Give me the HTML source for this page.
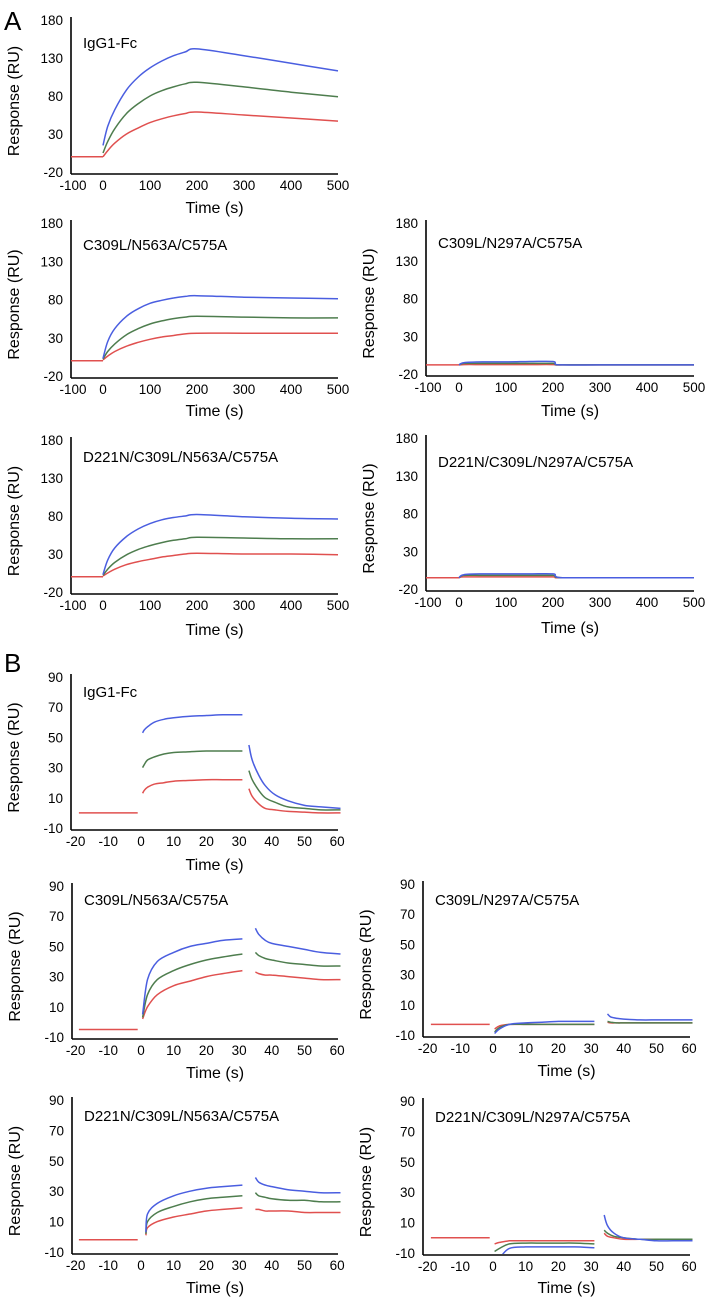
<!DOCTYPE html>
<html><head><meta charset="utf-8">
<style>
html,body{margin:0;padding:0;background:#fff;}
svg{display:block;font-family:"Liberation Sans",sans-serif;}
</style></head>
<body>
<svg id="fig" width="705" height="1297" viewBox="0 0 705 1297" xmlns="http://www.w3.org/2000/svg">
<text x="4" y="30" font-size="26">A</text>
<text x="4" y="672" font-size="26">B</text>
</svg>
<script>
// ---------- Panel A data ----------
const aTime = [0,10,25,50,75,100,125,150,175,200,300,400,500];
const a1Blue  = [15,40,62,88,105,117,126,133,138,142,133,123,113];
const a1Green = [5,20,37,57,70,80,87,92,96,98,92,85,79];
const a1Red   = [0,8,18,30,38,45,50,54,57,59,55,51,47];
const a2Blue  = [3,25,42,58,68,75,79,82,84,85,83,82,81];
const a2Green = [2,12,22,34,42,48,52,55,57,58,57,56,56];
const a2Red   = [1,6,12,19,24,28,31,33,35,36,36,36,36];
const a3Blue  = [3,22,38,53,63,70,75,78,80,82,79,77,76];
const a3Green = [2,10,19,29,36,41,45,48,50,52,51,50,50];
const a3Red   = [1,5,10,16,20,23,26,28,30,31,30,30,29];
const aBaseTime = [-80,0];
const aBaseLeft = [0,0];
const aBaseRightN297 = [-8,-8];
const aBaseRightD221 = [-5,-5];
const aTimeWeak = [0,10,50,100,150,200,205,220,300,400,500];
const a2rBlue  = [-8,-5,-4,-4,-3.5,-3.5,-7,-8,-8,-8,-8];
const a2rGreen = [-8,-6,-6,-6,-6,-6,-7.5,-8,-8,-8,-8];
const a2rRed   = [-8,-7.5,-7.5,-7.5,-7.5,-7.5,-8,-8,-8,-8,-8];
const a3rBlue  = [-5,-1,0,0,0,0,-3,-5,-5,-5,-5];
const a3rGreen = [-5,-2,-2,-2,-2,-2,-4,-5,-5,-5,-5];
const a3rRed   = [-5,-4,-4,-4,-4,-4,-5,-5,-5,-5,-5];
// ---------- Panel B data ----------
const bBaseTime = [-19,-1];
const b1AssocTime = [0.5,1,2,4,7,10,15,20,25,31];
const b1DissTime  = [33,34,36,38,41,45,50,55,61];
const b1BlueAssoc  = [53,55,57,60,62,63,64,64.5,65,65];
const b1BlueDiss   = [45,35,25,18,12,8,5,4,3];
const b1GreenAssoc = [30,32,35,37,39,40,40.5,41,41,41];
const b1GreenDiss  = [28,22,15,10,7,4,3,2,2];
const b1RedAssoc   = [13,15,17,19,20,21,21.5,22,22,22];
const b1RedDiss    = [16,11,6,3,2,1,0.5,0,0];
const b1Base = [0,0];
const bAssocTime = [0.5,2,5,10,15,20,25,31];
const bDissTime  = [35,36,38,40,45,50,55,61];
const b2BlueAssoc  = [5,28,40,46,50,52,54,55];
const b2BlueDiss   = [62,58,54,52,50,48,46,45];
const b2GreenAssoc = [3,18,28,34,38,41,43,45];
const b2GreenDiss  = [46,44,42,41,39,38,37,37];
const b2RedAssoc   = [2,10,18,24,27,30,32,34];
const b2RedDiss    = [33,32,31,31,30,29,28,28];
const b2Base = [-5,-5];
const b3AssocTime = [1.5,2,5,10,15,20,25,31];
const b3BlueAssoc  = [3,15,22,27,30,32,33,34];
const b3BlueDiss   = [39,36,34,33,31,30,29,29];
const b3GreenAssoc = [2,10,16,20,23,25,26,27];
const b3GreenDiss  = [29,27,26,25,24,24,23,23];
const b3RedAssoc   = [1,6,10,13,15,17,18,19];
const b3RedDiss    = [18,18,17,17,17,16,16,16];
const b3Base = [-2,-2];
const b2rBlueAssoc  = [-9,-6,-3,-2,-1.5,-1,-1,-1];
const b2rBlueDiss   = [4,2,1,0.5,0,0,0,0];
const b2rGreenAssoc = [-8,-5,-3,-3,-3,-3,-3,-3];
const b2rGreenDiss  = [-1,-1.5,-2,-2,-2,-2,-2,-2];
const b2rRedAssoc   = [-6,-4,-3,-3,-3,-3,-3,-3];
const b2rRedDiss    = [-1.5,-2,-2,-2,-2,-2,-2,-2];
const b2rBase = [-3,-3];
const b3rDissTime = [34,35,37,40,45,50,55,61];
const b3rBlueAssoc  = [-14,-13,-7,-6,-6,-6,-6,-6.5];
const b3rBlueDiss   = [15,8,3,0,-1,-2,-2,-2];
const b3rGreenAssoc = [-9,-7,-4,-3.5,-3.5,-3.5,-3.5,-4];
const b3rGreenDiss  = [5,3,1,0,-1,-1,-1,-1];
const b3rRedAssoc   = [-4,-3,-2,-2,-2,-2,-2,-2];
const b3rRedDiss    = [3,1,0,-1,-1,-1,-1,-1];
const b3rBase = [0,0];
const aYTicks = [180,130,80,30,-20];
const aXTicks = [-100,0,100,200,300,400,500];
const bYTicks = [90,70,50,30,10,-10];
const bXTicks = [-20,-10,0,10,20,30,40,50,60];

const BLUE="#4a5ee0", GREEN="#4e7d4e", RED="#e0504f";
const NS="http://www.w3.org/2000/svg";
const svg=document.getElementById('fig');
function mk(tag,attrs,parent){const e=document.createElementNS(NS,tag);for(const k in attrs)e.setAttribute(k,attrs[k]);(parent||svg).appendChild(e);return e;}
function smooth(pts){
  if(pts.length<3) return pts.map((p,i)=>(i?'L':'M')+p[0].toFixed(1)+','+p[1].toFixed(1)).join(' ');
  let d='M'+pts[0][0].toFixed(1)+','+pts[0][1].toFixed(1);
  for(let i=0;i<pts.length-1;i++){
    const p0=pts[i-1]||pts[i],p1=pts[i],p2=pts[i+1],p3=pts[i+2]||p2;
    const k=1/6;
    const c1=[p1[0]+(p2[0]-p0[0])*k,p1[1]+(p2[1]-p0[1])*k];
    const c2=[p2[0]-(p3[0]-p1[0])*k,p2[1]-(p3[1]-p1[1])*k];
    d+=` C${c1[0].toFixed(1)},${c1[1].toFixed(1)} ${c2[0].toFixed(1)},${c2[1].toFixed(1)} ${p2[0].toFixed(1)},${p2[1].toFixed(1)}`;
  }
  return d;
}

function panel(cfg){
  const g=mk('g',{});
  
  
  const ymin=cfg.yt[cfg.yt.length-1], ymax=cfg.yt[0];
  const X=v=>cfg.zero+cfg.xs*v;
  const Y=v=>cfg.top+(ymax-v)*(cfg.bot-cfg.top)/(ymax-ymin);
  const axisY=cfg.bot+2;
  const cid='clip-'+cfg.name;
  const cp=mk('clipPath',{id:cid},g);
  mk('rect',{x:cfg.L,y:cfg.top-5,width:cfg.R-cfg.L+4,height:axisY-cfg.top+4},cp);
  const ya=mk('line',{x1:cfg.L,y1:cfg.top-3,x2:cfg.L,y2:axisY,stroke:'#000','stroke-width':1.6},g);
  
  
  const xa=mk('line',{x1:cfg.L,y1:axisY,x2:cfg.R,y2:axisY,stroke:'#000','stroke-width':1.6},g);
  
  
  cfg.yt.forEach(v=>{
    const t=mk('text',{x:cfg.L-8,y:Y(v)+5,'font-size':13.5,'text-anchor':'end'},g);
    t.textContent=v;
    
    
  });
  cfg.xt.forEach(v=>{
    const px=Math.max(X(v),cfg.L+2);
    const t=mk('text',{x:px,y:axisY+16,'font-size':13.5,'text-anchor':'middle'},g);
    t.textContent=v;
    
    
  });
  const xt=mk('text',{x:(cfg.L+cfg.R)/2+10,y:cfg.timeY+6,'font-size':16,'text-anchor':'middle'},g);
  xt.textContent='Time (s)';
  
  
  const cy=(cfg.top+cfg.bot)/2+5;
  const ax=cfg.L-52;
  const yt=mk('text',{x:ax,y:cy,'font-size':16,'text-anchor':'middle',transform:`rotate(-90 ${ax} ${cy})`},g);
  yt.textContent='Response (RU)';
  
  
  const tt=mk('text',{x:cfg.L+12,y:cfg.titleY+5,'font-size':15},g);
  tt.textContent=cfg.title;
  
  
  const lg=mk('g',{'clip-path':`url(#${cid})`},g);
  cfg.series.forEach(s=>{
    const pts=s.t.map((tv,i)=>[X(tv),Y(s.v[i])]);
    const p=mk('path',{d:smooth(pts),fill:'none',stroke:s.c,'stroke-width':1.5},lg);
    
    
  });
}
const AL={L:71,R:338,zero:103,xs:0.47,yt:aYTicks,xt:aXTicks};
const AR={L:426,R:694,zero:459,xs:0.47,yt:aYTicks,xt:aXTicks};
const BL={L:72,R:338,zero:141,xs:3.27,yt:bYTicks,xt:bXTicks};
const BR={L:423,R:690,zero:493,xs:3.27,yt:bYTicks,xt:bXTicks};
function sA(t,b,g,r,bt,bv){return [
  {n:'baseline-line',t:bt,v:bv,c:RED},
  {n:'red-series-line',t:t,v:r,c:RED},{n:'green-series-line',t:t,v:g,c:GREEN},{n:'blue-series-line',t:t,v:b,c:BLUE}];}
function sB(at,dt,ba,bd,ga,gd,ra,rd,base){return [
  {n:'baseline-line',t:bBaseTime,v:base,c:RED},
  {n:'red-association-line',t:at,v:ra,c:RED},{n:'red-dissociation-line',t:dt,v:rd,c:RED},
  {n:'green-association-line',t:at,v:ga,c:GREEN},{n:'green-dissociation-line',t:dt,v:gd,c:GREEN},
  {n:'blue-association-line',t:at,v:ba,c:BLUE},{n:'blue-dissociation-line',t:dt,v:bd,c:BLUE}];}

panel(Object.assign({},AL,{name:'a-igg1-fc',top:20,bot:172,timeY:207,titleY:43,title:'IgG1-Fc',series:sA(aTime,a1Blue,a1Green,a1Red,aBaseTime,aBaseLeft)}));
panel(Object.assign({},AL,{name:'a-c309l-n563a',top:223,bot:376,timeY:410,titleY:245,title:'C309L/N563A/C575A',series:sA(aTime,a2Blue,a2Green,a2Red,aBaseTime,aBaseLeft)}));
panel(Object.assign({},AR,{name:'a-c309l-n297a',top:223,bot:374,timeY:410,titleY:243,title:'C309L/N297A/C575A',series:sA(aTimeWeak,a2rBlue,a2rGreen,a2rRed,aBaseTime,aBaseRightN297)}));
panel(Object.assign({},AL,{name:'a-d221n-n563a',top:440,bot:592,timeY:629,titleY:457,title:'D221N/C309L/N563A/C575A',series:sA(aTime,a3Blue,a3Green,a3Red,aBaseTime,aBaseLeft)}));
panel(Object.assign({},AR,{name:'a-d221n-n297a',top:438,bot:589,timeY:627,titleY:462,title:'D221N/C309L/N297A/C575A',series:sA(aTimeWeak,a3rBlue,a3rGreen,a3rRed,aBaseTime,aBaseRightD221)}));
panel(Object.assign({},BL,{name:'b-igg1-fc',L:71,top:677,bot:828,timeY:864,titleY:692,title:'IgG1-Fc',series:sB(b1AssocTime,b1DissTime,b1BlueAssoc,b1BlueDiss,b1GreenAssoc,b1GreenDiss,b1RedAssoc,b1RedDiss,b1Base)}));
panel(Object.assign({},BL,{name:'b-c309l-n563a',top:886,bot:1037,timeY:1072,titleY:900,title:'C309L/N563A/C575A',series:sB(bAssocTime,bDissTime,b2BlueAssoc,b2BlueDiss,b2GreenAssoc,b2GreenDiss,b2RedAssoc,b2RedDiss,b2Base)}));
panel(Object.assign({},BR,{name:'b-c309l-n297a',top:884,bot:1035,timeY:1070,titleY:900,title:'C309L/N297A/C575A',series:sB(bAssocTime,bDissTime,b2rBlueAssoc,b2rBlueDiss,b2rGreenAssoc,b2rGreenDiss,b2rRedAssoc,b2rRedDiss,b2rBase)}));
panel(Object.assign({},BL,{name:'b-d221n-n563a',top:1100,bot:1252,timeY:1287,titleY:1116,title:'D221N/C309L/N563A/C575A',series:sB(b3AssocTime,bDissTime,b3BlueAssoc,b3BlueDiss,b3GreenAssoc,b3GreenDiss,b3RedAssoc,b3RedDiss,b3Base)}));
panel(Object.assign({},BR,{name:'b-d221n-n297a',top:1101,bot:1253,timeY:1287,titleY:1117,title:'D221N/C309L/N297A/C575A',series:sB(bAssocTime,b3rDissTime,b3rBlueAssoc,b3rBlueDiss,b3rGreenAssoc,b3rGreenDiss,b3rRedAssoc,b3rRedDiss,b3rBase)}));
</script>
</body></html>
